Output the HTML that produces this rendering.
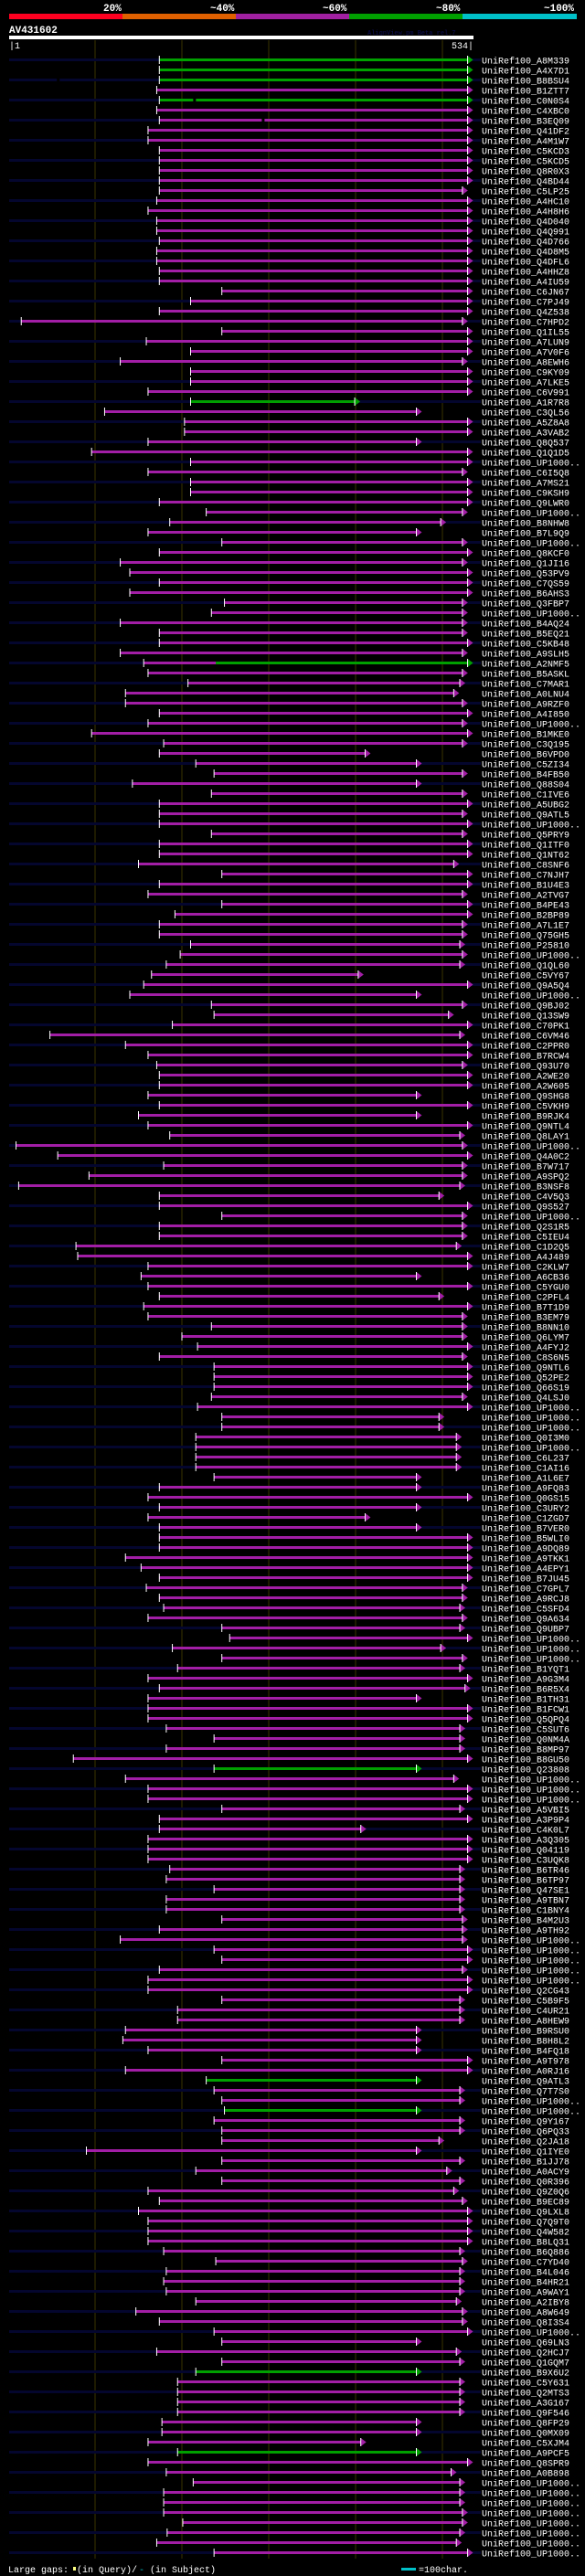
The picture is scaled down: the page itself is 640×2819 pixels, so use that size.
<!DOCTYPE html>
<html><head><meta charset="utf-8"><style>
html,body{margin:0;padding:0;background:#000;}
svg{display:block;}
text{font-family:"Liberation Mono","DejaVu Sans Mono",monospace;}
</style></head><body>
<svg id="chart" width="640" height="2819" viewBox="0 0 640 2819" xmlns="http://www.w3.org/2000/svg">
<rect x="0" y="0" width="640" height="2819" fill="#000"/>
<g>
<rect x="10" y="15" width="124" height="6" fill="#ff0020"/>
<rect x="134" y="15" width="124" height="6" fill="#e06000"/>
<rect x="258" y="15" width="124" height="6" fill="#a020a0"/>
<rect x="382" y="15" width="124" height="6" fill="#00a000"/>
<rect x="506" y="15" width="125" height="6" fill="#00c0c8"/>
<text x="113" y="12" fill="#fff" font-size="11" font-weight="bold">20%</text>
<text x="230" y="12" fill="#fff" font-size="11" font-weight="bold">~40%</text>
<text x="353" y="12" fill="#fff" font-size="11" font-weight="bold">~60%</text>
<text x="477" y="12" fill="#fff" font-size="11" font-weight="bold">~80%</text>
<text x="595" y="12" fill="#fff" font-size="11" font-weight="bold">~100%</text>
</g>
<text x="10" y="36" fill="#fff" font-size="11" font-weight="bold">AV431602</text>
<text x="402" y="38" fill="#0a0a40" font-size="7" font-weight="bold">AlignView.pm Beta rel.7</text>
<rect x="10" y="39" width="508" height="4" fill="#fff"/>
<text x="10" y="53" fill="#fff" font-size="10">|1</text>
<text x="518" y="53" fill="#fff" font-size="10" text-anchor="end">534|</text>
<g id="grid"></g>
<g id="rows"></g>
<g>
<text x="9" y="2815" fill="#fff" font-size="10">Large gaps:</text>
<rect x="80" y="2809" width="3" height="4" fill="#ffff80"/>
<text x="84" y="2815" fill="#fff" font-size="10">(in Query)/</text>
<text x="152" y="2815" fill="#00c0c8" font-size="10">-</text>
<text x="164" y="2815" fill="#fff" font-size="10">(in Subject)</text>
<rect x="439" y="2810" width="16" height="3" fill="#00c0c8"/>
<text x="458" y="2815" fill="#fff" font-size="10">=100char.</text>
</g>
</svg>
<script>
const starts = [174,174,174,171,174,171,174,161,161,174,
174,174,174,174,171,161,171,171,174,171,
171,174,174,246,210,174,15,246,159,210,
129,210,210,161,210,111,203,203,161,96,
210,161,210,210,174,228,186,161,246,174,
129,140,174,140,249,234,129,174,174,129,
156,161,207,135,135,174,161,96,179,174,
216,237,143,234,174,174,174,234,174,174,
150,246,174,161,246,192,174,174,210,198,
182,165,156,140,234,237,189,48,135,161,
171,174,174,161,174,150,161,186,9,57,
179,93,12,174,174,246,174,174,78,80,
161,153,161,174,156,161,234,200,218,174,
237,237,237,234,218,246,246,216,216,216,
216,237,174,161,174,161,174,174,174,135,
153,174,159,174,179,161,246,255,189,246,
195,161,174,161,161,161,182,237,182,75,
237,135,161,161,246,174,174,161,161,161,
186,182,237,182,182,246,174,129,237,246,
174,161,161,246,195,195,135,132,161,246,
135,228,237,246,249,237,246,246,90,246,
216,246,161,174,150,161,161,161,179,239,
182,179,182,216,147,174,237,246,171,246,
216,195,195,195,195,177,177,161,195,161,
182,213,179,179,179,201,183,171,237];
// Row ends shown as 470 are assumed: the end fell outside the zoomed crops.
const ends = [529,529,529,529,529,529,529,529,529,529,
529,529,529,523,529,529,529,529,529,529,
529,529,529,529,529,529,523,529,529,529,
523,529,529,529,399,470,529,529,470,529,
529,523,529,529,529,523,498,470,523,529,
523,529,529,529,523,523,523,523,529,523,
529,523,520,513,523,529,523,529,523,411,
470,523,470,523,529,523,529,523,529,529,
513,529,529,523,529,529,523,523,520,523,
520,403,529,470,523,507,529,520,529,529,
523,529,529,470,529,470,529,520,523,529,
523,523,520,496,529,523,523,523,516,529,
529,470,529,496,529,523,523,523,529,523,
529,529,529,523,529,496,496,516,516,516,
516,470,470,529,470,411,470,529,529,529,
529,529,523,523,520,523,520,529,498,523,
520,529,526,470,529,529,520,520,520,529,
470,513,529,529,520,529,406,529,529,529,
520,520,520,520,520,523,523,523,529,529,
523,529,529,520,520,520,470,470,470,529,
529,470,520,520,470,520,520,496,470,520,
505,520,513,523,529,529,529,529,520,523,
520,520,520,516,523,523,529,470,516,520,
470,520,520,520,520,470,470,406,470,529,
510,520,520,520,523,523,520,516,529];
const greenRows = [0,1,2,4,34,170,201,204,230,238];
const greenFromRow = [60];
const greenFromPos = [239];
const gapRows = [2,4,6];
const gapPos = [56,213,292];
const names = ["A8M339","A4X7D1","B8BSU4","B1ZTT7","C0N0S4","C4XBC0","B3EQ09","Q41DF2","A4M1W7","C5KCD3",
"C5KCD5","Q8R0X3","Q4BD44","C5LP25","A4HC10","A4H8H6","Q4D040","Q4Q991","Q4D766","Q4D8M5",
"Q4DFL6","A4HHZ8","A4IU59","C6JN67","C7PJ49","Q4Z538","C7HPD2","Q1IL55","A7LUN9","A7V0F6",
"A8EWH6","C9KY09","A7LKE5","C6V991","A1R7R8","C3QL56","A5Z8A8","A3VAB2","Q8Q537","Q1Q1D5",
"UP1000..","C6I5Q8","A7MS21","C9KSH9","Q9LWR0","UP1000..","B8NHW8","B7L9Q9","UP1000..","Q8KCF0",
"Q1JI16","Q53PV9","C7QS59","B6AHS3","Q3FBP7","UP1000..","B4AQ24","B5EQ21","C5KB48","A9SLH5",
"A2NMF5","B5ASKL","C7MAR1","A0LNU4","A9RZF0","A4I850","UP1000..","B1MKE0","C3Q195","B6VPD0",
"C5ZI34","B4FB50","Q88S04","C1IVE6","A5UBG2","Q9ATL5","UP1000..","Q5PRY9","Q1ITF0","Q1NT62",
"C8SNF6","C7NJH7","B1U4E3","A2TVG7","B4PE43","B2BP89","A7L1E7","Q75GH5","P25810","UP1000..",
"Q1QL60","C5VY67","Q9A5Q4","UP1000..","Q9BJ02","Q13SW9","C70PK1","C6VM46","C2PPR0","B7RCW4",
"Q93U70","A2WE20","A2W605","Q9SHG8","C5VKH9","B9RJK4","Q9NTL4","Q8LAY1","UP1000..","Q4A0C2",
"B7W717","A9SPQ2","B3NSF8","C4V5Q3","Q9S527","UP1000..","Q2S1R5","C5IEU4","C1D2Q5","A4J489",
"C2KLW7","A6CB36","C5YGU0","C2PFL4","B7T1D9","B3EM79","B8NN10","Q6LYM7","A4FYJ2","C8S6N5",
"Q9NTL6","Q52PE2","Q66S19","Q4LSJ0","UP1000..","UP1000..","UP1000..","Q0I3M0","UP1000..","C6L237",
"C1AI16","A1L6E7","A9FQ83","Q0GS15","C3URY2","C1ZGD7","B7VER0","B5WLI0","A9DQ89","A9TKK1",
"A4EPY1","B7JU45","C7GPL7","A9RCJ8","C5SFD4","Q9A634","Q9UBP7","UP1000..","UP1000..","UP1000..",
"B1YQT1","A9G3M4","B6R5X4","B1TH31","B1FCW1","Q5QPQ4","C5SUT6","Q0NM4A","B8MP97","B8GU50",
"Q23808","UP1000..","UP1000..","UP1000..","A5VBI5","A3P9P4","C4K0L7","A3Q305","Q04119","C3UQK8",
"B6TR46","B6TP97","Q47SE1","A9TBN7","C1BNY4","B4M2U3","A9TH92","UP1000..","UP1000..","UP1000..",
"UP1000..","UP1000..","Q2CG43","C5B9F5","C4UR21","A8HEW9","B9RSU0","B8H8L2","B4FQ18","A9T978",
"A0RJ16","Q9ATL3","Q7T7S0","UP1000..","UP1000..","Q9Y167","Q6PQ33","Q2JA18","Q1IYE0","B1JJ78",
"A0ACY9","Q0R396","Q9Z0Q6","B9EC89","Q9LXL8","Q7Q9T0","Q4W582","B8LQ31","B6Q886","C7YD40",
"B4L046","B4HR21","A9WAY1","A2IBY8","A8W649","Q8I3S4","UP1000..","Q69LN3","Q2HCJ7","Q1GQM7",
"B9X6U2","C5Y631","Q2MTS3","A3G167","Q9F546","Q8FP29","Q0MX09","C5XJM4","A9PCF5","Q8SPR9","A0B898"];

const SVGNS = "http://www.w3.org/2000/svg";
const xScale = p => 9 + p * 0.95;          // residue -> px
const yRow = i => 65.5 + 11 * i;            // row index -> px
const MAG = "#a21ea6", GRN = "#00a000";

const grid = document.getElementById('grid');
[100,200,300,400,500].forEach(t => {
  const l = document.createElementNS(SVGNS,'rect');
  l.setAttribute('x', xScale(t) - 0.5); l.setAttribute('y', 44);
  l.setAttribute('width', 1); l.setAttribute('height', 2756);
  l.setAttribute('fill', '#3a3400');
  
  
  grid.appendChild(l);
});

const rows = document.getElementById('rows');
for (let i = 0; i < starts.length; i++) {
  const g = document.createElementNS(SVGNS,'g');
  
  
  const y = yRow(i);
  if (i % 2 === 0) {
    const n = document.createElementNS(SVGNS,'rect');
    n.setAttribute('x', 10); n.setAttribute('y', y - 1.5);
    n.setAttribute('width', 516); n.setAttribute('height', 3);
    n.setAttribute('fill', '#04062e');
    
    
    g.appendChild(n);
  }
  const isG = greenRows.indexOf(i) >= 0;
  const col = isG ? GRN : MAG;
  const xs = xScale(starts[i]), xe = xScale(ends[i]);
  const b = document.createElementNS(SVGNS,'rect');
  b.setAttribute('x', xs); b.setAttribute('y', y - 1.5);
  b.setAttribute('width', Math.max(0, xe - xs)); b.setAttribute('height', 3);
  b.setAttribute('fill', col);
  
  
  g.appendChild(b);
  const gf = greenFromRow.indexOf(i);
  let endCol = col;
  if (gf >= 0) {
    const gx = xScale(greenFromPos[gf]);
    const gb = document.createElementNS(SVGNS,'rect');
    gb.setAttribute('x', gx); gb.setAttribute('y', y - 1.5);
    gb.setAttribute('width', Math.max(0, xe - gx)); gb.setAttribute('height', 3);
    gb.setAttribute('fill', GRN);
    
    
    g.appendChild(gb);
    endCol = GRN;
  }
  const gi = gapRows.indexOf(i);
  if (gi >= 0) {
    const gxp = xScale(gapPos[gi]);
    const gp = document.createElementNS(SVGNS,'rect');
    gp.setAttribute('x', gxp); gp.setAttribute('y', y - 1.5);
    gp.setAttribute('width', 3); gp.setAttribute('height', 3);
    gp.setAttribute('fill', '#000');
    
    
    g.appendChild(gp);
  }
  const t = document.createElementNS(SVGNS,'rect');
  t.setAttribute('x', xs - 0.5); t.setAttribute('y', y - 4.5);
  t.setAttribute('width', 1); t.setAttribute('height', 9);
  t.setAttribute('fill', '#fff');
  
  
  g.appendChild(t);
  const a = document.createElementNS(SVGNS,'polygon');
  a.setAttribute('points', `${xe},${y-4.5} ${xe+6},${y} ${xe},${y+4.5}`);
  a.setAttribute('fill', endCol);
  
  
  g.appendChild(a);
  const al = document.createElementNS(SVGNS,'rect');
  al.setAttribute('x', xe - 0.5); al.setAttribute('y', y - 4.5);
  al.setAttribute('width', 1); al.setAttribute('height', 9);
  al.setAttribute('fill', '#fff');
  
  
  g.appendChild(al);
  const lb = document.createElementNS(SVGNS,'text');
  lb.setAttribute('x', 527); lb.setAttribute('y', y + 4);
  lb.setAttribute('fill', '#fff'); lb.setAttribute('font-size', '10');
  lb.textContent = 'UniRef100_' + (names[i] || 'UP1000..');
  
  
  g.appendChild(lb);
  rows.appendChild(g);
}
</script>
</body></html>
